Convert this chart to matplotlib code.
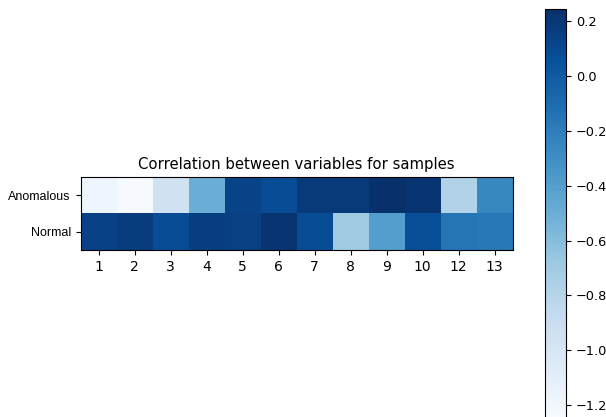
import matplotlib
matplotlib.use("Agg")
import matplotlib.pyplot as plt
import numpy as np

columns = ["1", "2", "3", "4", "5", "6", "7", "8", "9", "10", "12", "13"]
rows = ["Anomalous", "Normal"]
anomalous = [-1.18, -1.24, -0.95, -0.50, 0.13, 0.08, 0.18, 0.19, 0.24, 0.21, -0.78, -0.26]
normal = [0.14, 0.17, 0.08, 0.16, 0.15, 0.21, 0.08, -0.70, -0.40, 0.07, -0.15, -0.17]
vmin, vmax = -1.247, 0.244

W, H = 606, 417
fig = plt.figure(figsize=(W / 100, H / 100), dpi=100)

ax = fig.add_axes([80.5 / W, 1 - 250 / H, 432 / W, 73 / H])
data = np.array([anomalous, normal])
im = ax.imshow(data, cmap="Blues", vmin=vmin, vmax=vmax, aspect="auto")
ax.set_xticks(range(len(columns)))
ax.set_xticklabels(columns, fontsize=10)
ax.set_yticks(range(len(rows)))
ax.set_yticklabels(rows, fontsize=9, family="Liberation Sans")
ax.set_title("Correlation between variables for samples", fontsize=10.7)

cax = fig.add_axes([545 / W, 1 - 418 / H, 21 / W, 409 / H])
cb = fig.colorbar(im, cax=cax)
cb.set_ticks([0.2, 0.0, -0.2, -0.4, -0.6, -0.8, -1.0, -1.2])
cb.ax.tick_params(labelsize=9.3)

fig.savefig("out.png", dpi=100)
